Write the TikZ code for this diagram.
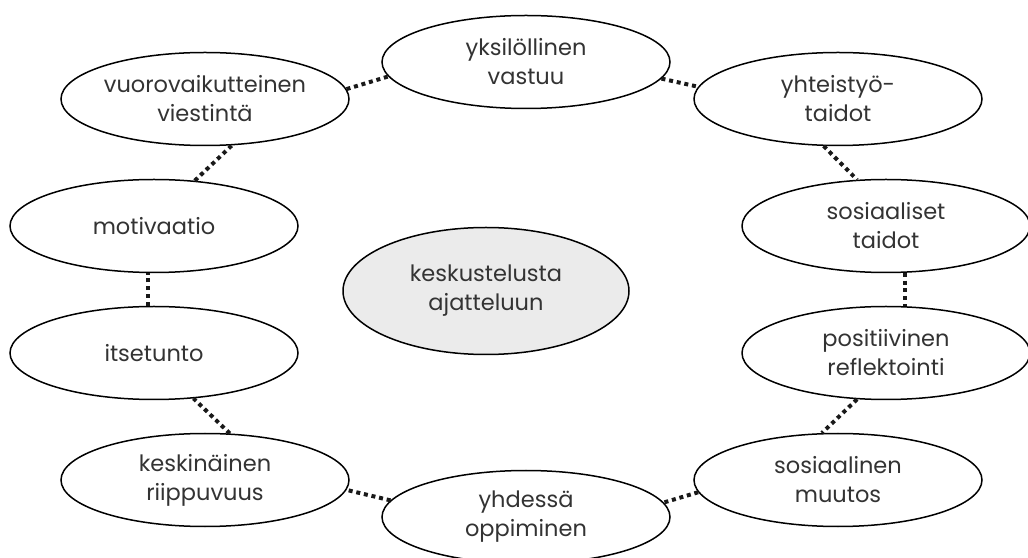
\documentclass[tikz,border=0pt]{standalone}
\usepackage{fontspec}
\setmainfont{Poppins}
\usetikzlibrary{shapes.geometric}
\definecolor{txt}{HTML}{333333}
\definecolor{hub}{HTML}{EBEBEB}
\tikzset{
  oval/.style={ellipse, draw=black, line width=1.5pt, fill=white, minimum width=288pt, minimum height=93pt, inner sep=0pt, align=center, text=txt, font=\fontsize{22.5}{29}\selectfont},
  huboval/.style={oval, fill=hub, minimum width=286pt, minimum height=127pt},
  link/.style={line width=4pt, dash pattern=on 4pt off 3.8pt, color=black!90}
}
\begin{document}
\begin{tikzpicture}[x=1pt,y=1pt]
\useasboundingbox (0,0) rectangle (1028,557);
\clip (0,0) rectangle (1028,557);
% nodes (y' = 557 - y)
\node[oval] (yks) at (526,495) {yksilöllinen\\vastuu};
\node[oval] (vuo) at (205,458) {vuorovaikutteinen\\viestintä};
\node[oval] (yht) at (838,458) {yhteistyö-\\taidot};
\node[oval] (mot) at (154,331) {motivaatio};
\node[oval] (sos) at (886,331) {sosiaaliset\\taidot};
\node[oval] (its) at (154,204) {itsetunto};
\node[oval] (pos) at (886,204) {positiivinen\\reflektointi};
\node[oval] (kes) at (205,77) {keskinäinen\\riippuvuus};
\node[oval] (muu) at (838,77) {sosiaalinen\\muutos};
\node[oval] (yhd) at (526,40) {yhdessä\\oppiminen};
\node[huboval] (hub) at (486,266) {keskustelusta\\ajatteluun};
% connectors
\draw[link] (vuo.4) -- (yks.186);
\draw[link] (yks.-7) -- (yht.175);
\draw[link] (yht.-107) -- (sos.122);
\draw[link] (sos.-68) -- (pos.68);
\draw[link] (pos.-122) -- (muu.109);
\draw[link] (muu.185.6) -- (yhd.6.6);
\draw[link] (yhd.173.4) -- (kes.-4);
\draw[link] (kes.62.5) -- (its.-49);
\draw[link] (its.97) -- (mot.-97);
\draw[link] (mot.48.8) -- (vuo.-60);
\end{tikzpicture}
\end{document}
